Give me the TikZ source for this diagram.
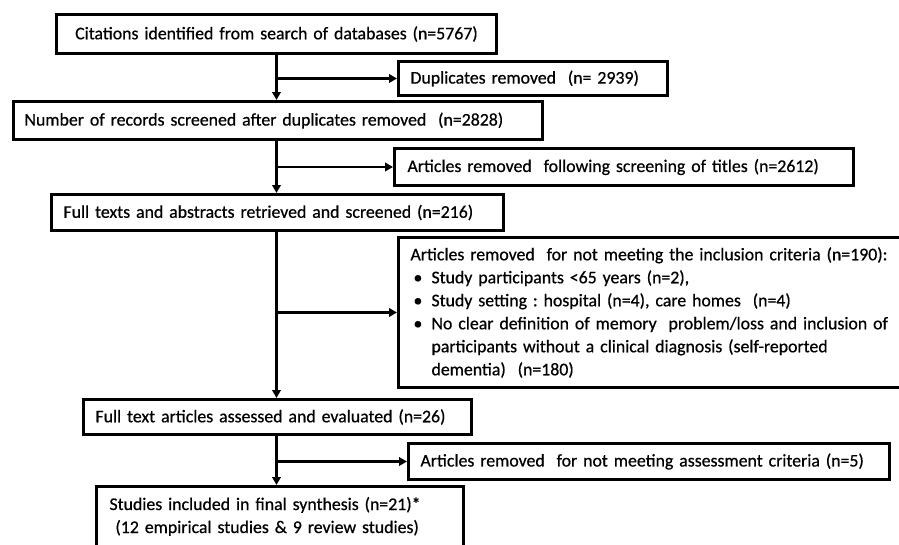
\documentclass[tikz,border=0pt]{standalone}
\usepackage{fontspec}
\setmainfont[FakeBold=0.6]{Carlito}
\usetikzlibrary{arrows.meta}
\frenchspacing
\newcommand{\bul}{\makebox[21pt][l]{\hspace{3pt}•}}
\newcommand{\nobul}{\makebox[21pt][l]{}}
\begin{document}
\begin{tikzpicture}[x=1pt,y=-1pt,
  box/.style={draw, line width=3pt, inner xsep=12pt, inner ysep=0pt, anchor=north west,
    align=left, font=\fontsize{17.8}{23}\selectfont\frenchspacing},
  arr/.style={line width=2.5pt, -{Triangle[length=8pt,width=8.5pt]}},
  ln/.style={line width=2.5pt}]
\useasboundingbox (0,0) rectangle (899,544);
\fill[white] (0,0) rectangle (899,544);

\node[box, align=center, text width=416pt, minimum height=39pt] (b1) at (55,13)
  {Citations identified from\ search of databases (n=5767)};
\node[box, text width=245pt, minimum height=34pt] (d1) at (397,60)
  {Duplicates removed\ \ (n= 2939)};
\node[box, inner xsep=11pt, text width=507pt, minimum height=38pt] (b2) at (12,100)
  {Number\ of records screened after duplicates removed\ \ (n=2828)};
\node[box, inner xsep=13pt, text width=433pt, minimum height=37pt] (d2) at (393,147)
  {Articles removed\ \ following screening of titles (n=2612)};
\node[box, text width=428pt, minimum height=36pt] (b3) at (50,193)
  {Full texts and abstracts retrieved and screened (n=216)};
\node[box, text width=536pt, minimum height=150pt] (d3) at (397,236)
  {Articles removed\ \ for not meeting the inclusion criteria (n=190):\\
   \bul Study participants <65 years (n=2),\\
   \bul Study setting : hospital (n=4), care homes\ \ (n=4)\\
   \bul No clear definition of memory\ \ problem/loss and inclusion of\\
   \nobul participants without a clinical diagnosis (self-reported\\
   \nobul dementia)\ \ (n=180)};
\node[box, text width=364pt, minimum height=35pt] (b4) at (82,398)
  {Full text articles assessed and evaluated (n=26)};
\node[box, text width=457pt, minimum height=36pt] (d4) at (407,442)
  {Articles removed\ \ for not meeting assessment criteria (n=5)};
\node[box, inner xsep=13pt, text width=341pt, minimum height=80pt] (b5) at (95,485)
  {Studies included in final synthesis (n=21)*\\
   \ (12 empirical studies \& 9 review studies)\\
   \mbox{}};

\draw[arr] (b1.south) -- (b1.south |- b2.north);
\draw[arr] (b1.south |- d1.west) -- (d1.west);
\draw[arr] (b1.south |- b2.south) -- (b1.south |- b3.north);
\draw[arr] (b1.south |- d2.west) -- (d2.west);
\draw[arr] (b1.south |- b3.south) -- (b1.south |- b4.north);
\draw[arr] (b1.south |- d3.west) -- (d3.west);
\draw[arr] (b1.south |- b4.south) -- (b1.south |- b5.north);
\draw[arr] (b1.south |- d4.west) -- (d4.west);
\end{tikzpicture}
\end{document}
